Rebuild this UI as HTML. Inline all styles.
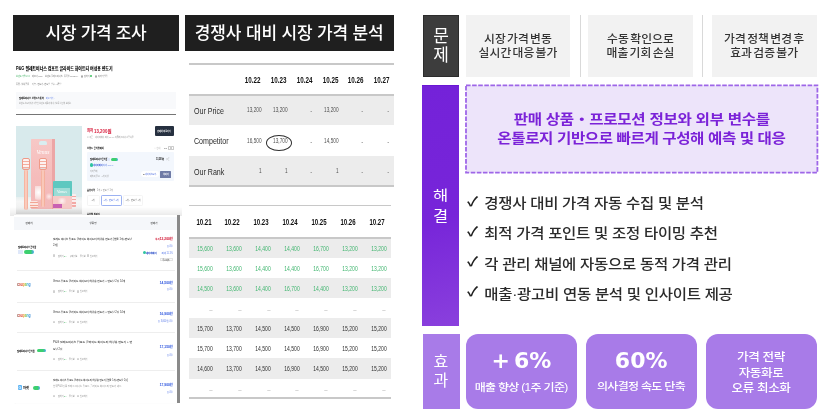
<!DOCTYPE html>
<html lang="ko"><head><meta charset="utf-8">
<style>
*{margin:0;padding:0;box-sizing:border-box}
html,body{width:827px;height:419px;overflow:hidden;background:#fff}
body{position:relative;font-family:"Liberation Sans","Noto Sans CJK KR",sans-serif}
.a{position:absolute;white-space:nowrap}
</style></head>
<body>
<div class="a" style="left:0;top:0;width:827px;height:419px;will-change:transform">
<div class="a" style="left:13px;top:15px;width:166.00px;height:35.50px;background:#1f1f1f;"></div>
<div class="a" style="top:21.91px;font-size:17.000px;line-height:23.800px;color:#fff;font-weight:500;font-family:'Liberation Sans','Noto Sans CJK KR',sans-serif;letter-spacing:-0.300px;left:-504.00px;width:1200px;text-align:center;">시장 가격 조사</div>
<div class="a" style="left:185px;top:15px;width:209.00px;height:35.50px;background:#1f1f1f;"></div>
<div class="a" style="top:22.01px;font-size:17.000px;line-height:23.800px;color:#fff;font-weight:500;font-family:'Liberation Sans','Noto Sans CJK KR',sans-serif;letter-spacing:-0.150px;left:-310.80px;width:1200px;text-align:center;">경쟁사 대비 시장 가격 분석</div>
<div class="a" style="left:423px;top:15px;width:36.40px;height:61.60px;background:#3d3d3d;border:0.8px solid #2c2c2c"></div>
<div class="a" style="top:24.81px;font-size:17.000px;line-height:23.800px;color:#fff;font-weight:400;font-family:'Liberation Sans','Noto Sans CJK KR',sans-serif;left:-159.00px;width:1200px;text-align:center;">문</div>
<div class="a" style="top:44.41px;font-size:17.000px;line-height:23.800px;color:#fff;font-weight:400;font-family:'Liberation Sans','Noto Sans CJK KR',sans-serif;left:-159.00px;width:1200px;text-align:center;">제</div>
<div class="a" style="left:466px;top:15px;width:104.00px;height:61.60px;background:#f2f2f2;"></div>
<div class="a" style="top:30.61px;font-size:11.800px;line-height:16.520px;color:#333;font-weight:500;font-family:'Liberation Sans','Noto Sans CJK KR',sans-serif;letter-spacing:0.100px;word-spacing:-2.200px;left:-82.00px;width:1200px;text-align:center;transform:scale(1.0000,0.9500);transform-origin:center center;">시장 가격 변동</div>
<div class="a" style="top:45.41px;font-size:11.800px;line-height:16.520px;color:#333;font-weight:500;font-family:'Liberation Sans','Noto Sans CJK KR',sans-serif;letter-spacing:0.100px;word-spacing:-2.200px;left:-82.00px;width:1200px;text-align:center;transform:scale(1.0000,0.9500);transform-origin:center center;">실시간 대응 불가</div>
<div class="a" style="left:588.3px;top:15px;width:104.50px;height:61.60px;background:#f2f2f2;"></div>
<div class="a" style="top:30.61px;font-size:11.800px;line-height:16.520px;color:#333;font-weight:500;font-family:'Liberation Sans','Noto Sans CJK KR',sans-serif;letter-spacing:0.100px;word-spacing:-2.200px;left:40.55px;width:1200px;text-align:center;transform:scale(1.0000,0.9500);transform-origin:center center;">수동 확인으로</div>
<div class="a" style="top:45.41px;font-size:11.800px;line-height:16.520px;color:#333;font-weight:500;font-family:'Liberation Sans','Noto Sans CJK KR',sans-serif;letter-spacing:0.100px;word-spacing:-2.200px;left:40.55px;width:1200px;text-align:center;transform:scale(1.0000,0.9500);transform-origin:center center;">매출 기회 손실</div>
<div class="a" style="left:711.6px;top:15px;width:105.20px;height:61.60px;background:#f2f2f2;"></div>
<div class="a" style="top:30.61px;font-size:11.800px;line-height:16.520px;color:#333;font-weight:500;font-family:'Liberation Sans','Noto Sans CJK KR',sans-serif;letter-spacing:0.100px;word-spacing:-2.200px;left:164.20px;width:1200px;text-align:center;transform:scale(1.0000,0.9500);transform-origin:center center;">가격 정책 변경 후</div>
<div class="a" style="top:45.41px;font-size:11.800px;line-height:16.520px;color:#333;font-weight:500;font-family:'Liberation Sans','Noto Sans CJK KR',sans-serif;letter-spacing:0.100px;word-spacing:-2.200px;left:164.20px;width:1200px;text-align:center;transform:scale(1.0000,0.9500);transform-origin:center center;">효과 검증 불가</div>
<div class="a" style="left:580px;top:15px;width:1.00px;height:62.00px;background:#d9d9d9;"></div>
<div class="a" style="left:702.2px;top:15px;width:1.00px;height:62.00px;background:#d9d9d9;"></div>
<div class="a" style="left:422.4px;top:85px;width:36.80px;height:241.00px;background:linear-gradient(165deg,#7422d9 0%,#7725d9 55%,#8a40dd 100%);border-top:1px solid #6a16d4"></div>
<div class="a" style="top:184.39px;font-size:16.500px;line-height:23.100px;color:#fff;font-weight:400;font-family:'Liberation Sans','Noto Sans CJK KR',sans-serif;left:-159.50px;width:1200px;text-align:center;transform:scale(1.0000,0.8600);transform-origin:center center;">해</div>
<div class="a" style="top:205.09px;font-size:16.500px;line-height:23.100px;color:#fff;font-weight:400;font-family:'Liberation Sans','Noto Sans CJK KR',sans-serif;left:-159.50px;width:1200px;text-align:center;transform:scale(1.0000,0.8600);transform-origin:center center;">결</div>
<svg class="a" style="left:0;top:0" width="827" height="419"><rect x="466.0" y="85.4" width="351.4" height="87.3" fill="#ede4fa" stroke="#9e66e8" stroke-width="1.8" stroke-dasharray="4.6 1.5"/></svg>
<div class="a" style="top:109.01px;font-size:15.600px;line-height:21.840px;color:#7b22d8;font-weight:700;font-family:'Liberation Sans','Noto Sans CJK KR',sans-serif;letter-spacing:-0.300px;left:41.80px;width:1200px;text-align:center;transform:scale(1.0000,0.8800);transform-origin:center center;">판매 상품・프로모션 정보와 외부 변수를</div>
<div class="a" style="top:128.31px;font-size:15.600px;line-height:21.840px;color:#7b22d8;font-weight:700;font-family:'Liberation Sans','Noto Sans CJK KR',sans-serif;letter-spacing:-0.420px;left:41.40px;width:1200px;text-align:center;transform:scale(1.0000,0.8800);transform-origin:center center;">온톨로지 기반으로 빠르게 구성해 예측 및 대응</div>
<div class="a" style="top:193.18px;font-size:15.500px;line-height:21.700px;color:#2b2b2b;font-weight:500;font-family:'Liberation Sans','Noto Sans CJK KR',sans-serif;letter-spacing:-0.300px;left:484.30px;transform:scale(1.0000,0.9000);transform-origin:left center;">경쟁사 대비 가격 자동 수집 및 분석</div>
<div class="a" style="top:191.36px;font-size:15.500px;line-height:21.700px;color:#222;font-weight:700;font-family:'Liberation Sans','Noto Sans CJK KR',sans-serif;left:467.00px;transform:scale(1.0000,0.8400);transform-origin:left center;">✓</div>
<div class="a" style="top:223.38px;font-size:15.500px;line-height:21.700px;color:#2b2b2b;font-weight:500;font-family:'Liberation Sans','Noto Sans CJK KR',sans-serif;letter-spacing:-0.300px;left:484.30px;transform:scale(1.0000,0.9000);transform-origin:left center;">최적 가격 포인트 및 조정 타이밍 추천</div>
<div class="a" style="top:221.36px;font-size:15.500px;line-height:21.700px;color:#222;font-weight:700;font-family:'Liberation Sans','Noto Sans CJK KR',sans-serif;left:467.00px;transform:scale(1.0000,0.8400);transform-origin:left center;">✓</div>
<div class="a" style="top:253.58px;font-size:15.500px;line-height:21.700px;color:#2b2b2b;font-weight:500;font-family:'Liberation Sans','Noto Sans CJK KR',sans-serif;letter-spacing:-0.300px;left:484.30px;transform:scale(1.0000,0.9000);transform-origin:left center;">각 관리 채널에 자동으로 동적 가격 관리</div>
<div class="a" style="top:251.36px;font-size:15.500px;line-height:21.700px;color:#222;font-weight:700;font-family:'Liberation Sans','Noto Sans CJK KR',sans-serif;left:467.00px;transform:scale(1.0000,0.8400);transform-origin:left center;">✓</div>
<div class="a" style="top:283.78px;font-size:15.500px;line-height:21.700px;color:#2b2b2b;font-weight:500;font-family:'Liberation Sans','Noto Sans CJK KR',sans-serif;letter-spacing:-0.300px;left:484.30px;transform:scale(1.0000,0.9000);transform-origin:left center;">매출·광고비 연동 분석 및 인사이트 제공</div>
<div class="a" style="top:281.36px;font-size:15.500px;line-height:21.700px;color:#222;font-weight:700;font-family:'Liberation Sans','Noto Sans CJK KR',sans-serif;left:467.00px;transform:scale(1.0000,0.8400);transform-origin:left center;">✓</div>
<div class="a" style="left:422.5px;top:333.6px;width:37.40px;height:75.80px;background:#a87be8;"></div>
<div class="a" style="top:351.38px;font-size:16.000px;line-height:22.400px;color:#fff;font-weight:400;font-family:'Liberation Sans','Noto Sans CJK KR',sans-serif;left:-159.20px;width:1200px;text-align:center;">효</div>
<div class="a" style="top:369.68px;font-size:16.000px;line-height:22.400px;color:#fff;font-weight:400;font-family:'Liberation Sans','Noto Sans CJK KR',sans-serif;left:-159.20px;width:1200px;text-align:center;">과</div>
<div class="a" style="left:466.1px;top:333.6px;width:111.1px;height:75.9px;background:#a87be8;border-radius:12px"></div>
<div class="a" style="left:586.2px;top:333.6px;width:111.0px;height:75.9px;background:#a87be8;border-radius:12px"></div>
<div class="a" style="left:706.1px;top:333.6px;width:111.4px;height:75.9px;background:#a87be8;border-radius:12px"></div>
<div class="a" style="top:345.80px;font-size:22.000px;line-height:30.800px;color:#fff;font-weight:700;font-family:'Liberation Sans','Noto Sans CJK KR',sans-serif;word-spacing:-3.500px;left:-78.60px;width:1200px;text-align:center;font-family:'DejaVu Sans',sans-serif;">+ 6%</div>
<div class="a" style="top:380.05px;font-size:12.000px;line-height:16.800px;color:#fff;font-weight:500;font-family:'Liberation Sans','Noto Sans CJK KR',sans-serif;letter-spacing:-0.700px;left:-78.90px;width:1200px;text-align:center;transform:scale(1.0000,0.8600);transform-origin:center center;">매출 향상 (1주 기준)</div>
<div class="a" style="top:345.80px;font-size:22.000px;line-height:30.800px;color:#fff;font-weight:700;font-family:'Liberation Sans','Noto Sans CJK KR',sans-serif;left:41.20px;width:1200px;text-align:center;font-family:'DejaVu Sans',sans-serif;">60%</div>
<div class="a" style="top:378.65px;font-size:12.000px;line-height:16.800px;color:#fff;font-weight:500;font-family:'Liberation Sans','Noto Sans CJK KR',sans-serif;letter-spacing:-0.700px;left:41.00px;width:1200px;text-align:center;transform:scale(1.0000,0.8600);transform-origin:center center;">의사결정 속도 단축</div>
<div class="a" style="top:348.96px;font-size:12.600px;line-height:17.640px;color:#fff;font-weight:500;font-family:'Liberation Sans','Noto Sans CJK KR',sans-serif;letter-spacing:-0.400px;left:161.00px;width:1200px;text-align:center;transform:scale(1.0000,0.9300);transform-origin:center center;">가격 전략</div>
<div class="a" style="top:365.06px;font-size:12.600px;line-height:17.640px;color:#fff;font-weight:500;font-family:'Liberation Sans','Noto Sans CJK KR',sans-serif;letter-spacing:-0.400px;left:161.00px;width:1200px;text-align:center;transform:scale(1.0000,0.9300);transform-origin:center center;">자동화로</div>
<div class="a" style="top:380.16px;font-size:12.600px;line-height:17.640px;color:#fff;font-weight:500;font-family:'Liberation Sans','Noto Sans CJK KR',sans-serif;letter-spacing:-0.400px;left:161.00px;width:1200px;text-align:center;transform:scale(1.0000,0.9300);transform-origin:center center;">오류 최소화</div>
<div class="a" style="left:189.3px;top:63.3px;width:204.70px;height:1.70px;background:#c8c8c8;"></div>
<div class="a" style="left:189.3px;top:95.5px;width:204.70px;height:29.20px;background:#ececec;"></div>
<div class="a" style="left:189.3px;top:155.5px;width:204.70px;height:29.50px;background:#ececec;"></div>
<div class="a" style="left:189.3px;top:93.8px;width:204.70px;height:1.80px;background:#c8c8c8;"></div>
<div class="a" style="left:189.3px;top:185.0px;width:204.70px;height:1.70px;background:#c8c8c8;"></div>
<div class="a" style="top:73.98px;font-size:8.600px;line-height:12.040px;color:#111;font-weight:700;font-family:'Liberation Sans','Noto Sans CJK KR',sans-serif;right:566.00px;transform:scale(0.7300,1.0000);transform-origin:right center;">10.22</div>
<div class="a" style="top:73.98px;font-size:8.600px;line-height:12.040px;color:#111;font-weight:700;font-family:'Liberation Sans','Noto Sans CJK KR',sans-serif;right:540.20px;transform:scale(0.7300,1.0000);transform-origin:right center;">10.23</div>
<div class="a" style="top:73.98px;font-size:8.600px;line-height:12.040px;color:#111;font-weight:700;font-family:'Liberation Sans','Noto Sans CJK KR',sans-serif;right:514.30px;transform:scale(0.7300,1.0000);transform-origin:right center;">10.24</div>
<div class="a" style="top:73.98px;font-size:8.600px;line-height:12.040px;color:#111;font-weight:700;font-family:'Liberation Sans','Noto Sans CJK KR',sans-serif;right:488.70px;transform:scale(0.7300,1.0000);transform-origin:right center;">10.25</div>
<div class="a" style="top:73.98px;font-size:8.600px;line-height:12.040px;color:#111;font-weight:700;font-family:'Liberation Sans','Noto Sans CJK KR',sans-serif;right:463.00px;transform:scale(0.7300,1.0000);transform-origin:right center;">10.26</div>
<div class="a" style="top:73.98px;font-size:8.600px;line-height:12.040px;color:#111;font-weight:700;font-family:'Liberation Sans','Noto Sans CJK KR',sans-serif;right:437.20px;transform:scale(0.7300,1.0000);transform-origin:right center;">10.27</div>
<div class="a" style="top:103.72px;font-size:9.400px;line-height:13.160px;color:#2a2a2a;font-weight:400;font-family:'Liberation Sans','Noto Sans CJK KR',sans-serif;left:194.40px;transform:scale(0.7550,1.0000);transform-origin:left center;">Our Price</div>
<div class="a" style="top:133.52px;font-size:9.400px;line-height:13.160px;color:#2a2a2a;font-weight:400;font-family:'Liberation Sans','Noto Sans CJK KR',sans-serif;left:194.40px;transform:scale(0.7550,1.0000);transform-origin:left center;">Competitor</div>
<div class="a" style="top:164.72px;font-size:9.400px;line-height:13.160px;color:#2a2a2a;font-weight:400;font-family:'Liberation Sans','Noto Sans CJK KR',sans-serif;left:194.40px;transform:scale(0.7550,1.0000);transform-origin:left center;">Our Rank</div>
<div class="a" style="top:103.10px;font-size:10.000px;line-height:14.000px;color:#505050;font-weight:400;font-family:'Liberation Sans','Noto Sans CJK KR',sans-serif;right:565.50px;transform:scale(0.4736,0.6400);transform-origin:right center;">13,200</div>
<div class="a" style="top:103.10px;font-size:10.000px;line-height:14.000px;color:#505050;font-weight:400;font-family:'Liberation Sans','Noto Sans CJK KR',sans-serif;right:539.70px;transform:scale(0.4736,0.6400);transform-origin:right center;">13,200</div>
<div class="a" style="top:103.80px;font-size:10.000px;line-height:14.000px;color:#666;font-weight:400;font-family:'Liberation Sans','Noto Sans CJK KR',sans-serif;right:514.60px;transform:scale(0.6000,0.6000);transform-origin:right center;">-</div>
<div class="a" style="top:103.10px;font-size:10.000px;line-height:14.000px;color:#505050;font-weight:400;font-family:'Liberation Sans','Noto Sans CJK KR',sans-serif;right:488.20px;transform:scale(0.4736,0.6400);transform-origin:right center;">13,200</div>
<div class="a" style="top:103.80px;font-size:10.000px;line-height:14.000px;color:#666;font-weight:400;font-family:'Liberation Sans','Noto Sans CJK KR',sans-serif;right:463.30px;transform:scale(0.6000,0.6000);transform-origin:right center;">-</div>
<div class="a" style="top:103.80px;font-size:10.000px;line-height:14.000px;color:#666;font-weight:400;font-family:'Liberation Sans','Noto Sans CJK KR',sans-serif;right:437.50px;transform:scale(0.6000,0.6000);transform-origin:right center;">-</div>
<div class="a" style="top:133.80px;font-size:10.000px;line-height:14.000px;color:#505050;font-weight:400;font-family:'Liberation Sans','Noto Sans CJK KR',sans-serif;right:565.50px;transform:scale(0.4736,0.6400);transform-origin:right center;">16,500</div>
<div class="a" style="top:133.80px;font-size:10.000px;line-height:14.000px;color:#505050;font-weight:400;font-family:'Liberation Sans','Noto Sans CJK KR',sans-serif;right:539.70px;transform:scale(0.4736,0.6400);transform-origin:right center;">13,700</div>
<div class="a" style="top:134.50px;font-size:10.000px;line-height:14.000px;color:#666;font-weight:400;font-family:'Liberation Sans','Noto Sans CJK KR',sans-serif;right:514.60px;transform:scale(0.6000,0.6000);transform-origin:right center;">-</div>
<div class="a" style="top:133.80px;font-size:10.000px;line-height:14.000px;color:#505050;font-weight:400;font-family:'Liberation Sans','Noto Sans CJK KR',sans-serif;right:488.20px;transform:scale(0.4736,0.6400);transform-origin:right center;">14,500</div>
<div class="a" style="top:134.50px;font-size:10.000px;line-height:14.000px;color:#666;font-weight:400;font-family:'Liberation Sans','Noto Sans CJK KR',sans-serif;right:463.30px;transform:scale(0.6000,0.6000);transform-origin:right center;">-</div>
<div class="a" style="top:134.50px;font-size:10.000px;line-height:14.000px;color:#666;font-weight:400;font-family:'Liberation Sans','Noto Sans CJK KR',sans-serif;right:437.50px;transform:scale(0.6000,0.6000);transform-origin:right center;">-</div>
<div class="a" style="top:164.10px;font-size:10.000px;line-height:14.000px;color:#505050;font-weight:400;font-family:'Liberation Sans','Noto Sans CJK KR',sans-serif;right:565.50px;transform:scale(0.4736,0.6400);transform-origin:right center;">1</div>
<div class="a" style="top:164.10px;font-size:10.000px;line-height:14.000px;color:#505050;font-weight:400;font-family:'Liberation Sans','Noto Sans CJK KR',sans-serif;right:539.70px;transform:scale(0.4736,0.6400);transform-origin:right center;">1</div>
<div class="a" style="top:164.80px;font-size:10.000px;line-height:14.000px;color:#666;font-weight:400;font-family:'Liberation Sans','Noto Sans CJK KR',sans-serif;right:514.60px;transform:scale(0.6000,0.6000);transform-origin:right center;">-</div>
<div class="a" style="top:164.10px;font-size:10.000px;line-height:14.000px;color:#505050;font-weight:400;font-family:'Liberation Sans','Noto Sans CJK KR',sans-serif;right:488.20px;transform:scale(0.4736,0.6400);transform-origin:right center;">1</div>
<div class="a" style="top:164.80px;font-size:10.000px;line-height:14.000px;color:#666;font-weight:400;font-family:'Liberation Sans','Noto Sans CJK KR',sans-serif;right:463.30px;transform:scale(0.6000,0.6000);transform-origin:right center;">-</div>
<div class="a" style="top:164.80px;font-size:10.000px;line-height:14.000px;color:#666;font-weight:400;font-family:'Liberation Sans','Noto Sans CJK KR',sans-serif;right:437.50px;transform:scale(0.6000,0.6000);transform-origin:right center;">-</div>
<div class="a" style="left:266.2px;top:135.4px;width:26px;height:15.9px;border:1.4px solid #2d2d2d;border-radius:50%"></div>
<div class="a" style="left:189.3px;top:204.6px;width:201.70px;height:1.60px;background:#c8c8c8;"></div>
<div class="a" style="left:189.3px;top:237.0px;width:201.70px;height:2.20px;background:#c8c8c8;"></div>
<div class="a" style="left:189.3px;top:239.2px;width:201.70px;height:18.80px;background:#ececec;"></div>
<div class="a" style="left:189.3px;top:278.1px;width:201.70px;height:19.60px;background:#ececec;"></div>
<div class="a" style="left:189.3px;top:318.1px;width:201.70px;height:20.10px;background:#ececec;"></div>
<div class="a" style="left:189.3px;top:358.1px;width:201.70px;height:20.60px;background:#ececec;"></div>
<div class="a" style="left:189.3px;top:397.2px;width:201.70px;height:1.50px;background:#c8c8c8;"></div>
<div class="a" style="top:217.09px;font-size:8.300px;line-height:11.620px;color:#111;font-weight:700;font-family:'Liberation Sans','Noto Sans CJK KR',sans-serif;left:-396.50px;width:1200px;text-align:center;transform:scale(0.7300,1.0000);transform-origin:center center;">10.21</div>
<div class="a" style="top:217.09px;font-size:8.300px;line-height:11.620px;color:#111;font-weight:700;font-family:'Liberation Sans','Noto Sans CJK KR',sans-serif;left:-367.80px;width:1200px;text-align:center;transform:scale(0.7300,1.0000);transform-origin:center center;">10.22</div>
<div class="a" style="top:217.09px;font-size:8.300px;line-height:11.620px;color:#111;font-weight:700;font-family:'Liberation Sans','Noto Sans CJK KR',sans-serif;left:-338.70px;width:1200px;text-align:center;transform:scale(0.7300,1.0000);transform-origin:center center;">10.23</div>
<div class="a" style="top:217.09px;font-size:8.300px;line-height:11.620px;color:#111;font-weight:700;font-family:'Liberation Sans','Noto Sans CJK KR',sans-serif;left:-310.10px;width:1200px;text-align:center;transform:scale(0.7300,1.0000);transform-origin:center center;">10.24</div>
<div class="a" style="top:217.09px;font-size:8.300px;line-height:11.620px;color:#111;font-weight:700;font-family:'Liberation Sans','Noto Sans CJK KR',sans-serif;left:-281.00px;width:1200px;text-align:center;transform:scale(0.7300,1.0000);transform-origin:center center;">10.25</div>
<div class="a" style="top:217.09px;font-size:8.300px;line-height:11.620px;color:#111;font-weight:700;font-family:'Liberation Sans','Noto Sans CJK KR',sans-serif;left:-252.20px;width:1200px;text-align:center;transform:scale(0.7300,1.0000);transform-origin:center center;">10.26</div>
<div class="a" style="top:217.09px;font-size:8.300px;line-height:11.620px;color:#111;font-weight:700;font-family:'Liberation Sans','Noto Sans CJK KR',sans-serif;left:-223.20px;width:1200px;text-align:center;transform:scale(0.7300,1.0000);transform-origin:center center;">10.27</div>
<div class="a" style="top:242.40px;font-size:10.000px;line-height:14.000px;color:#3fb56e;font-weight:400;font-family:'Liberation Sans','Noto Sans CJK KR',sans-serif;left:-394.70px;width:1200px;text-align:center;transform:scale(0.5032,0.6800);transform-origin:center center;">15,600</div>
<div class="a" style="top:242.40px;font-size:10.000px;line-height:14.000px;color:#3fb56e;font-weight:400;font-family:'Liberation Sans','Noto Sans CJK KR',sans-serif;left:-366.00px;width:1200px;text-align:center;transform:scale(0.5032,0.6800);transform-origin:center center;">13,600</div>
<div class="a" style="top:242.40px;font-size:10.000px;line-height:14.000px;color:#3fb56e;font-weight:400;font-family:'Liberation Sans','Noto Sans CJK KR',sans-serif;left:-336.90px;width:1200px;text-align:center;transform:scale(0.5032,0.6800);transform-origin:center center;">14,400</div>
<div class="a" style="top:242.40px;font-size:10.000px;line-height:14.000px;color:#3fb56e;font-weight:400;font-family:'Liberation Sans','Noto Sans CJK KR',sans-serif;left:-308.30px;width:1200px;text-align:center;transform:scale(0.5032,0.6800);transform-origin:center center;">14,400</div>
<div class="a" style="top:242.40px;font-size:10.000px;line-height:14.000px;color:#3fb56e;font-weight:400;font-family:'Liberation Sans','Noto Sans CJK KR',sans-serif;left:-279.20px;width:1200px;text-align:center;transform:scale(0.5032,0.6800);transform-origin:center center;">16,700</div>
<div class="a" style="top:242.40px;font-size:10.000px;line-height:14.000px;color:#3fb56e;font-weight:400;font-family:'Liberation Sans','Noto Sans CJK KR',sans-serif;left:-250.40px;width:1200px;text-align:center;transform:scale(0.5032,0.6800);transform-origin:center center;">13,200</div>
<div class="a" style="top:242.40px;font-size:10.000px;line-height:14.000px;color:#3fb56e;font-weight:400;font-family:'Liberation Sans','Noto Sans CJK KR',sans-serif;left:-221.40px;width:1200px;text-align:center;transform:scale(0.5032,0.6800);transform-origin:center center;">13,200</div>
<div class="a" style="top:261.85px;font-size:10.000px;line-height:14.000px;color:#3fb56e;font-weight:400;font-family:'Liberation Sans','Noto Sans CJK KR',sans-serif;left:-394.70px;width:1200px;text-align:center;transform:scale(0.5032,0.6800);transform-origin:center center;">15,600</div>
<div class="a" style="top:261.85px;font-size:10.000px;line-height:14.000px;color:#3fb56e;font-weight:400;font-family:'Liberation Sans','Noto Sans CJK KR',sans-serif;left:-366.00px;width:1200px;text-align:center;transform:scale(0.5032,0.6800);transform-origin:center center;">13,600</div>
<div class="a" style="top:261.85px;font-size:10.000px;line-height:14.000px;color:#3fb56e;font-weight:400;font-family:'Liberation Sans','Noto Sans CJK KR',sans-serif;left:-336.90px;width:1200px;text-align:center;transform:scale(0.5032,0.6800);transform-origin:center center;">14,400</div>
<div class="a" style="top:261.85px;font-size:10.000px;line-height:14.000px;color:#3fb56e;font-weight:400;font-family:'Liberation Sans','Noto Sans CJK KR',sans-serif;left:-308.30px;width:1200px;text-align:center;transform:scale(0.5032,0.6800);transform-origin:center center;">14,400</div>
<div class="a" style="top:261.85px;font-size:10.000px;line-height:14.000px;color:#3fb56e;font-weight:400;font-family:'Liberation Sans','Noto Sans CJK KR',sans-serif;left:-279.20px;width:1200px;text-align:center;transform:scale(0.5032,0.6800);transform-origin:center center;">16,700</div>
<div class="a" style="top:261.85px;font-size:10.000px;line-height:14.000px;color:#3fb56e;font-weight:400;font-family:'Liberation Sans','Noto Sans CJK KR',sans-serif;left:-250.40px;width:1200px;text-align:center;transform:scale(0.5032,0.6800);transform-origin:center center;">13,200</div>
<div class="a" style="top:261.85px;font-size:10.000px;line-height:14.000px;color:#3fb56e;font-weight:400;font-family:'Liberation Sans','Noto Sans CJK KR',sans-serif;left:-221.40px;width:1200px;text-align:center;transform:scale(0.5032,0.6800);transform-origin:center center;">13,200</div>
<div class="a" style="top:281.70px;font-size:10.000px;line-height:14.000px;color:#3fb56e;font-weight:400;font-family:'Liberation Sans','Noto Sans CJK KR',sans-serif;left:-394.70px;width:1200px;text-align:center;transform:scale(0.5032,0.6800);transform-origin:center center;">14,500</div>
<div class="a" style="top:281.70px;font-size:10.000px;line-height:14.000px;color:#3fb56e;font-weight:400;font-family:'Liberation Sans','Noto Sans CJK KR',sans-serif;left:-366.00px;width:1200px;text-align:center;transform:scale(0.5032,0.6800);transform-origin:center center;">13,600</div>
<div class="a" style="top:281.70px;font-size:10.000px;line-height:14.000px;color:#3fb56e;font-weight:400;font-family:'Liberation Sans','Noto Sans CJK KR',sans-serif;left:-336.90px;width:1200px;text-align:center;transform:scale(0.5032,0.6800);transform-origin:center center;">14,400</div>
<div class="a" style="top:281.70px;font-size:10.000px;line-height:14.000px;color:#3fb56e;font-weight:400;font-family:'Liberation Sans','Noto Sans CJK KR',sans-serif;left:-308.30px;width:1200px;text-align:center;transform:scale(0.5032,0.6800);transform-origin:center center;">16,700</div>
<div class="a" style="top:281.70px;font-size:10.000px;line-height:14.000px;color:#3fb56e;font-weight:400;font-family:'Liberation Sans','Noto Sans CJK KR',sans-serif;left:-279.20px;width:1200px;text-align:center;transform:scale(0.5032,0.6800);transform-origin:center center;">14,400</div>
<div class="a" style="top:281.70px;font-size:10.000px;line-height:14.000px;color:#3fb56e;font-weight:400;font-family:'Liberation Sans','Noto Sans CJK KR',sans-serif;left:-250.40px;width:1200px;text-align:center;transform:scale(0.5032,0.6800);transform-origin:center center;">13,200</div>
<div class="a" style="top:281.70px;font-size:10.000px;line-height:14.000px;color:#3fb56e;font-weight:400;font-family:'Liberation Sans','Noto Sans CJK KR',sans-serif;left:-221.40px;width:1200px;text-align:center;transform:scale(0.5032,0.6800);transform-origin:center center;">13,200</div>
<div class="a" style="top:303.30px;font-size:10.000px;line-height:14.000px;color:#999;font-weight:400;font-family:'Liberation Sans','Noto Sans CJK KR',sans-serif;left:-389.20px;width:1200px;text-align:center;transform:scale(0.6000,0.6000);transform-origin:center center;">–</div>
<div class="a" style="top:303.30px;font-size:10.000px;line-height:14.000px;color:#999;font-weight:400;font-family:'Liberation Sans','Noto Sans CJK KR',sans-serif;left:-360.50px;width:1200px;text-align:center;transform:scale(0.6000,0.6000);transform-origin:center center;">–</div>
<div class="a" style="top:303.30px;font-size:10.000px;line-height:14.000px;color:#999;font-weight:400;font-family:'Liberation Sans','Noto Sans CJK KR',sans-serif;left:-331.40px;width:1200px;text-align:center;transform:scale(0.6000,0.6000);transform-origin:center center;">–</div>
<div class="a" style="top:303.30px;font-size:10.000px;line-height:14.000px;color:#999;font-weight:400;font-family:'Liberation Sans','Noto Sans CJK KR',sans-serif;left:-302.80px;width:1200px;text-align:center;transform:scale(0.6000,0.6000);transform-origin:center center;">–</div>
<div class="a" style="top:303.30px;font-size:10.000px;line-height:14.000px;color:#999;font-weight:400;font-family:'Liberation Sans','Noto Sans CJK KR',sans-serif;left:-273.70px;width:1200px;text-align:center;transform:scale(0.6000,0.6000);transform-origin:center center;">–</div>
<div class="a" style="top:303.30px;font-size:10.000px;line-height:14.000px;color:#999;font-weight:400;font-family:'Liberation Sans','Noto Sans CJK KR',sans-serif;left:-244.90px;width:1200px;text-align:center;transform:scale(0.6000,0.6000);transform-origin:center center;">–</div>
<div class="a" style="top:303.30px;font-size:10.000px;line-height:14.000px;color:#999;font-weight:400;font-family:'Liberation Sans','Noto Sans CJK KR',sans-serif;left:-215.90px;width:1200px;text-align:center;transform:scale(0.6000,0.6000);transform-origin:center center;">–</div>
<div class="a" style="top:321.95px;font-size:10.000px;line-height:14.000px;color:#2e2e2e;font-weight:400;font-family:'Liberation Sans','Noto Sans CJK KR',sans-serif;left:-394.70px;width:1200px;text-align:center;transform:scale(0.5032,0.6800);transform-origin:center center;">15,700</div>
<div class="a" style="top:321.95px;font-size:10.000px;line-height:14.000px;color:#2e2e2e;font-weight:400;font-family:'Liberation Sans','Noto Sans CJK KR',sans-serif;left:-366.00px;width:1200px;text-align:center;transform:scale(0.5032,0.6800);transform-origin:center center;">13,700</div>
<div class="a" style="top:321.95px;font-size:10.000px;line-height:14.000px;color:#2e2e2e;font-weight:400;font-family:'Liberation Sans','Noto Sans CJK KR',sans-serif;left:-336.90px;width:1200px;text-align:center;transform:scale(0.5032,0.6800);transform-origin:center center;">14,500</div>
<div class="a" style="top:321.95px;font-size:10.000px;line-height:14.000px;color:#2e2e2e;font-weight:400;font-family:'Liberation Sans','Noto Sans CJK KR',sans-serif;left:-308.30px;width:1200px;text-align:center;transform:scale(0.5032,0.6800);transform-origin:center center;">14,500</div>
<div class="a" style="top:321.95px;font-size:10.000px;line-height:14.000px;color:#2e2e2e;font-weight:400;font-family:'Liberation Sans','Noto Sans CJK KR',sans-serif;left:-279.20px;width:1200px;text-align:center;transform:scale(0.5032,0.6800);transform-origin:center center;">16,900</div>
<div class="a" style="top:321.95px;font-size:10.000px;line-height:14.000px;color:#2e2e2e;font-weight:400;font-family:'Liberation Sans','Noto Sans CJK KR',sans-serif;left:-250.40px;width:1200px;text-align:center;transform:scale(0.5032,0.6800);transform-origin:center center;">15,200</div>
<div class="a" style="top:321.95px;font-size:10.000px;line-height:14.000px;color:#2e2e2e;font-weight:400;font-family:'Liberation Sans','Noto Sans CJK KR',sans-serif;left:-221.40px;width:1200px;text-align:center;transform:scale(0.5032,0.6800);transform-origin:center center;">15,200</div>
<div class="a" style="top:341.95px;font-size:10.000px;line-height:14.000px;color:#2e2e2e;font-weight:400;font-family:'Liberation Sans','Noto Sans CJK KR',sans-serif;left:-394.70px;width:1200px;text-align:center;transform:scale(0.5032,0.6800);transform-origin:center center;">15,700</div>
<div class="a" style="top:341.95px;font-size:10.000px;line-height:14.000px;color:#2e2e2e;font-weight:400;font-family:'Liberation Sans','Noto Sans CJK KR',sans-serif;left:-366.00px;width:1200px;text-align:center;transform:scale(0.5032,0.6800);transform-origin:center center;">13,700</div>
<div class="a" style="top:341.95px;font-size:10.000px;line-height:14.000px;color:#2e2e2e;font-weight:400;font-family:'Liberation Sans','Noto Sans CJK KR',sans-serif;left:-336.90px;width:1200px;text-align:center;transform:scale(0.5032,0.6800);transform-origin:center center;">14,500</div>
<div class="a" style="top:341.95px;font-size:10.000px;line-height:14.000px;color:#2e2e2e;font-weight:400;font-family:'Liberation Sans','Noto Sans CJK KR',sans-serif;left:-308.30px;width:1200px;text-align:center;transform:scale(0.5032,0.6800);transform-origin:center center;">14,500</div>
<div class="a" style="top:341.95px;font-size:10.000px;line-height:14.000px;color:#2e2e2e;font-weight:400;font-family:'Liberation Sans','Noto Sans CJK KR',sans-serif;left:-279.20px;width:1200px;text-align:center;transform:scale(0.5032,0.6800);transform-origin:center center;">16,900</div>
<div class="a" style="top:341.95px;font-size:10.000px;line-height:14.000px;color:#2e2e2e;font-weight:400;font-family:'Liberation Sans','Noto Sans CJK KR',sans-serif;left:-250.40px;width:1200px;text-align:center;transform:scale(0.5032,0.6800);transform-origin:center center;">15,200</div>
<div class="a" style="top:341.95px;font-size:10.000px;line-height:14.000px;color:#2e2e2e;font-weight:400;font-family:'Liberation Sans','Noto Sans CJK KR',sans-serif;left:-221.40px;width:1200px;text-align:center;transform:scale(0.5032,0.6800);transform-origin:center center;">15,200</div>
<div class="a" style="top:362.20px;font-size:10.000px;line-height:14.000px;color:#2e2e2e;font-weight:400;font-family:'Liberation Sans','Noto Sans CJK KR',sans-serif;left:-394.70px;width:1200px;text-align:center;transform:scale(0.5032,0.6800);transform-origin:center center;">14,600</div>
<div class="a" style="top:362.20px;font-size:10.000px;line-height:14.000px;color:#2e2e2e;font-weight:400;font-family:'Liberation Sans','Noto Sans CJK KR',sans-serif;left:-366.00px;width:1200px;text-align:center;transform:scale(0.5032,0.6800);transform-origin:center center;">13,700</div>
<div class="a" style="top:362.20px;font-size:10.000px;line-height:14.000px;color:#2e2e2e;font-weight:400;font-family:'Liberation Sans','Noto Sans CJK KR',sans-serif;left:-336.90px;width:1200px;text-align:center;transform:scale(0.5032,0.6800);transform-origin:center center;">14,500</div>
<div class="a" style="top:362.20px;font-size:10.000px;line-height:14.000px;color:#2e2e2e;font-weight:400;font-family:'Liberation Sans','Noto Sans CJK KR',sans-serif;left:-308.30px;width:1200px;text-align:center;transform:scale(0.5032,0.6800);transform-origin:center center;">16,900</div>
<div class="a" style="top:362.20px;font-size:10.000px;line-height:14.000px;color:#2e2e2e;font-weight:400;font-family:'Liberation Sans','Noto Sans CJK KR',sans-serif;left:-279.20px;width:1200px;text-align:center;transform:scale(0.5032,0.6800);transform-origin:center center;">14,500</div>
<div class="a" style="top:362.20px;font-size:10.000px;line-height:14.000px;color:#2e2e2e;font-weight:400;font-family:'Liberation Sans','Noto Sans CJK KR',sans-serif;left:-250.40px;width:1200px;text-align:center;transform:scale(0.5032,0.6800);transform-origin:center center;">15,200</div>
<div class="a" style="top:362.20px;font-size:10.000px;line-height:14.000px;color:#2e2e2e;font-weight:400;font-family:'Liberation Sans','Noto Sans CJK KR',sans-serif;left:-221.40px;width:1200px;text-align:center;transform:scale(0.5032,0.6800);transform-origin:center center;">15,200</div>
<div class="a" style="top:383.35px;font-size:10.000px;line-height:14.000px;color:#999;font-weight:400;font-family:'Liberation Sans','Noto Sans CJK KR',sans-serif;left:-389.20px;width:1200px;text-align:center;transform:scale(0.6000,0.6000);transform-origin:center center;">–</div>
<div class="a" style="top:383.35px;font-size:10.000px;line-height:14.000px;color:#999;font-weight:400;font-family:'Liberation Sans','Noto Sans CJK KR',sans-serif;left:-360.50px;width:1200px;text-align:center;transform:scale(0.6000,0.6000);transform-origin:center center;">–</div>
<div class="a" style="top:383.35px;font-size:10.000px;line-height:14.000px;color:#999;font-weight:400;font-family:'Liberation Sans','Noto Sans CJK KR',sans-serif;left:-331.40px;width:1200px;text-align:center;transform:scale(0.6000,0.6000);transform-origin:center center;">–</div>
<div class="a" style="top:383.35px;font-size:10.000px;line-height:14.000px;color:#999;font-weight:400;font-family:'Liberation Sans','Noto Sans CJK KR',sans-serif;left:-302.80px;width:1200px;text-align:center;transform:scale(0.6000,0.6000);transform-origin:center center;">–</div>
<div class="a" style="top:383.35px;font-size:10.000px;line-height:14.000px;color:#999;font-weight:400;font-family:'Liberation Sans','Noto Sans CJK KR',sans-serif;left:-273.70px;width:1200px;text-align:center;transform:scale(0.6000,0.6000);transform-origin:center center;">–</div>
<div class="a" style="top:383.35px;font-size:10.000px;line-height:14.000px;color:#999;font-weight:400;font-family:'Liberation Sans','Noto Sans CJK KR',sans-serif;left:-244.90px;width:1200px;text-align:center;transform:scale(0.6000,0.6000);transform-origin:center center;">–</div>
<div class="a" style="top:383.35px;font-size:10.000px;line-height:14.000px;color:#999;font-weight:400;font-family:'Liberation Sans','Noto Sans CJK KR',sans-serif;left:-215.90px;width:1200px;text-align:center;transform:scale(0.6000,0.6000);transform-origin:center center;">–</div>
<div class="a" style="left:0;top:0;width:827px;height:419px;filter:blur(0.25px)">
<div class="a" style="top:62.11px;font-size:10.000px;line-height:14.000px;color:#000;font-weight:900;font-family:'Liberation Sans','Noto Sans CJK KR',sans-serif;letter-spacing:-0.177px;left:16.00px;transform:scale(0.3950,0.4542);transform-origin:left center;">P&amp;G 질레트비너스 컴포트 글라이드 화이트티 여성용 면도기</div>
<div class="a" style="top:69.46px;font-size:10.000px;line-height:14.000px;color:#49b56a;font-weight:400;font-family:'Liberation Sans','Noto Sans CJK KR',sans-serif;left:16.40px;transform:scale(0.2050,0.2460);transform-origin:left center;">브랜드 카탈로그</div>
<div class="a" style="top:69.46px;font-size:10.000px;line-height:14.000px;color:#777;font-weight:400;font-family:'Liberation Sans','Noto Sans CJK KR',sans-serif;left:32.10px;transform:scale(0.2050,0.2460);transform-origin:left center;">제조사 P&amp;G</div>
<div class="a" style="top:69.46px;font-size:10.000px;line-height:14.000px;color:#777;font-weight:400;font-family:'Liberation Sans','Noto Sans CJK KR',sans-serif;left:45.00px;transform:scale(0.2050,0.2460);transform-origin:left center;">브랜드 질레트비너스</div>
<div class="a" style="top:69.46px;font-size:10.000px;line-height:14.000px;color:#777;font-weight:400;font-family:'Liberation Sans','Noto Sans CJK KR',sans-serif;left:63.70px;transform:scale(0.2050,0.2460);transform-origin:left center;">등록일 2022.06.</div>
<div class="a" style="top:69.46px;font-size:10.000px;line-height:14.000px;color:#777;font-weight:400;font-family:'Liberation Sans','Noto Sans CJK KR',sans-serif;left:83.60px;transform:scale(0.2050,0.2460);transform-origin:left center;">찜하기</div>
<div class="a" style="top:69.46px;font-size:10.000px;line-height:14.000px;color:#777;font-weight:400;font-family:'Liberation Sans','Noto Sans CJK KR',sans-serif;left:97.90px;transform:scale(0.2050,0.2460);transform-origin:left center;">최저가알림</div>
<div class="a" style="left:81.1px;top:75.0px;width:1.6px;height:2.6px;border:0.4px solid #aaa;border-radius:1px"></div>
<div class="a" style="left:94.9px;top:75.0px;width:1.6px;height:2.6px;border:0.4px solid #aaa;border-radius:1px"></div>
<div class="a" style="left:89.8px;top:75.4px;width:2.20px;height:2.00px;background:#3cc060;border-radius:50%"></div>
<div class="a" style="top:76.96px;font-size:10.000px;line-height:14.000px;color:#777;font-weight:400;font-family:'Liberation Sans','Noto Sans CJK KR',sans-serif;left:16.20px;transform:scale(0.2050,0.2460);transform-origin:left center;">종류 : 남녀공용</div>
<div class="a" style="top:76.96px;font-size:10.000px;line-height:14.000px;color:#777;font-weight:400;font-family:'Liberation Sans','Noto Sans CJK KR',sans-serif;left:31.70px;transform:scale(0.2050,0.2460);transform-origin:left center;">기능 : 면도기+면도날</div>
<div class="a" style="top:76.96px;font-size:10.000px;line-height:14.000px;color:#777;font-weight:400;font-family:'Liberation Sans','Noto Sans CJK KR',sans-serif;left:51.20px;transform:scale(0.2050,0.2460);transform-origin:left center;">날수 : 3중날</div>
<div class="a" style="left:15.9px;top:91.6px;width:160.50px;height:17.90px;background:#f8f9fb;"></div>
<div class="a" style="top:90.86px;font-size:10.000px;line-height:14.000px;color:#1a1a1a;font-weight:900;font-family:'Liberation Sans','Noto Sans CJK KR',sans-serif;left:19.30px;transform:scale(0.2200,0.2640);transform-origin:left center;">질레트비너스 브랜드스토어</div>
<div class="a" style="top:90.86px;font-size:10.000px;line-height:14.000px;color:#5b7be8;font-weight:400;font-family:'Liberation Sans','Noto Sans CJK KR',sans-serif;left:45.50px;transform:scale(0.2000,0.2400);transform-origin:left center;">바로가기 ›</div>
<div class="a" style="top:96.35px;font-size:10.000px;line-height:14.000px;color:#9a9a9a;font-weight:400;font-family:'Liberation Sans','Noto Sans CJK KR',sans-serif;left:19.30px;transform:scale(0.1850,0.2220);transform-origin:left center;">브랜드 스토어에서 다양한 브랜드 제품과 혜택 정보를 확인해 보세요.</div>
<div class="a" style="left:15.9px;top:113.9px;width:160.60px;height:1.60px;background:#757575;"></div>
<div class="a" style="left:16.3px;top:126.0px;width:65.50px;height:88.40px;background:#d8eaec;"></div>
<div class="a" style="left:16.3px;top:197px;width:65.5px;height:17.4px;background:linear-gradient(#e6efef,#f5f6f6 25%,#eff0f0 70%,#dedede)"></div>
<div class="a" style="left:31.2px;top:139px;width:23.6px;height:70.2px;background:linear-gradient(#f7c8c6,#f5bcbb 55%,#f3b8b8);border-radius:0.8px"></div>
<div class="a" style="left:52.2px;top:139px;width:2.6px;height:70.2px;background:#eca6a6"></div>
<div class="a" style="left:38.5px;top:141.4px;width:8.8px;height:3.3px;background:#d9eef0;border-radius:2px 2px 1px 1px"></div>
<div class="a" style="left:34.5px;top:186px;width:9px;height:16px;background:radial-gradient(circle at 40% 40%,#ffffff,#f7dada 60%,rgba(247,200,200,0) 75%)"></div>
<div class="a" style="left:46px;top:192px;width:6px;height:9px;background:radial-gradient(circle,#fbeaea,rgba(247,200,200,0) 70%)"></div>
<div class="a" style="top:145.00px;font-size:10.000px;line-height:14.000px;color:#ffffff;font-weight:400;font-family:'Liberation Sans','Noto Sans CJK KR',sans-serif;left:-557.20px;width:1200px;text-align:center;transform:scale(0.5600,0.5600);transform-origin:center center;font-family:'Liberation Serif',serif;font-style:italic;">Venus</div>
<div class="a" style="left:38.5px;top:158.4px;width:8.3px;height:11.6px;background:repeating-linear-gradient(#fdf2f0 0 1.8px,#f4ad9f 1.8px 2.6px,#e2dcdc 2.6px 3.2px);border-radius:2px;border:0.8px solid #ef9a88"></div>
<div class="a" style="left:40.8px;top:170px;width:4.2px;height:37px;background:linear-gradient(90deg,#f3a893,#fbd3c6,#f2a58f);border-radius:1.5px 1.5px 2px 2px"></div>
<div class="a" style="left:22px;top:158.4px;width:7.7px;height:11.6px;background:repeating-linear-gradient(#fdf2f0 0 1.8px,#f4ad9f 1.8px 2.6px,#e2dcdc 2.6px 3.2px);border-radius:2px;border:0.8px solid #ef9a88"></div>
<div class="a" style="left:23.6px;top:170px;width:4.8px;height:39.8px;background:linear-gradient(90deg,#f4aa95,#fcd6c9,#f3a792);border-radius:1.5px 1.5px 2.4px 2.4px"></div>
<div class="a" style="left:30.3px;top:200.6px;width:8px;height:7.5px;background:repeating-linear-gradient(#fbe6e2 0 1.5px,#f2a493 1.5px 2.5px);border-radius:1.5px"></div>
<div class="a" style="left:52.7px;top:180.6px;width:18.9px;height:28.6px;background:#f6cac7;border-radius:0.8px"></div>
<div class="a" style="left:52.7px;top:180.6px;width:18.9px;height:15.6px;background:#5ec8c0;border-radius:0.8px 0.8px 0 0"></div>
<div class="a" style="left:54.2px;top:188.4px;width:15.9px;height:7.4px;background:#9edcd6"></div>
<div class="a" style="top:185.00px;font-size:10.000px;line-height:14.000px;color:#ffffff;font-weight:400;font-family:'Liberation Sans','Noto Sans CJK KR',sans-serif;left:-537.90px;width:1200px;text-align:center;transform:scale(0.4200,0.4200);transform-origin:center center;font-family:'Liberation Serif',serif;font-style:italic;">Venus</div>
<div class="a" style="left:56px;top:197.5px;width:12px;height:6px;background:radial-gradient(circle,#fff3f3,rgba(246,202,199,0) 70%)"></div>
<div class="a" style="left:52.7px;top:204px;width:9.1px;height:3.5px;background:#c961b2"></div>
<div class="a" style="left:71.6px;top:193.8px;width:4.5px;height:13.2px;background:repeating-linear-gradient(#fbeeee 0 1.6px,#f2a9a5 1.6px 3.2px);border-radius:0.8px"></div>
<div class="a" style="top:124.00px;font-size:10.000px;line-height:14.000px;color:#d8203f;font-weight:900;font-family:'Liberation Sans','Noto Sans CJK KR',sans-serif;left:86.80px;transform:scale(0.3300,0.4125);transform-origin:left center;">최저</div>
<div class="a" style="top:123.97px;font-size:10.000px;line-height:14.000px;color:#d8203f;font-weight:900;font-family:'Liberation Sans','Noto Sans CJK KR',sans-serif;letter-spacing:0.100px;left:94.30px;transform:scale(0.4300,0.5000);transform-origin:left center;">13,200원</div>
<div class="a" style="top:130.36px;font-size:10.000px;line-height:14.000px;color:#999;font-weight:400;font-family:'Liberation Sans','Noto Sans CJK KR',sans-serif;left:86.70px;transform:scale(0.2000,0.2400);transform-origin:left center;">⎙ 쿠폰</div>
<div class="a" style="top:130.36px;font-size:10.000px;line-height:14.000px;color:#999;font-weight:400;font-family:'Liberation Sans','Noto Sans CJK KR',sans-serif;left:95.10px;transform:scale(0.2000,0.2400);transform-origin:left center;">네이버페이 최대 11.1% 적립</div>
<div class="a" style="top:130.36px;font-size:10.000px;line-height:14.000px;color:#999;font-weight:400;font-family:'Liberation Sans','Noto Sans CJK KR',sans-serif;left:117.10px;transform:scale(0.2000,0.2400);transform-origin:left center;">질레트비너스공식몰</div>
<div class="a" style="left:154.6px;top:126.0px;width:19.50px;height:9.50px;background:#263040;border-radius:1px"></div>
<div class="a" style="top:123.86px;font-size:10.000px;line-height:14.000px;color:#fff;font-weight:700;font-family:'Liberation Sans','Noto Sans CJK KR',sans-serif;left:-435.70px;width:1200px;text-align:center;transform:scale(0.2000,0.2400);transform-origin:center center;">판매처 바로가기</div>
<div class="a" style="top:140.86px;font-size:10.000px;line-height:14.000px;color:#1a1a1a;font-weight:900;font-family:'Liberation Sans','Noto Sans CJK KR',sans-serif;left:86.90px;transform:scale(0.2200,0.2640);transform-origin:left center;">브랜드 공식판매처</div>
<div class="a" style="top:140.96px;font-size:10.000px;line-height:14.000px;color:#aaa;font-weight:400;font-family:'Liberation Sans','Noto Sans CJK KR',sans-serif;left:154.20px;transform:scale(0.2000,0.2400);transform-origin:left center;">ⓘ 안내</div>
<div class="a" style="top:140.90px;font-size:10.000px;line-height:14.000px;color:#666;font-weight:700;font-family:'Liberation Sans','Noto Sans CJK KR',sans-serif;left:163.80px;transform:scale(0.2000,0.2000);transform-origin:left center;">1/1</div>
<div class="a" style="left:168.3px;top:146.0px;width:2.9px;height:3.8px;border:0.4px solid #ccc;border-radius:0.6px"></div>
<div class="a" style="left:171.2px;top:146.0px;width:2.9px;height:3.8px;border:0.4px solid #ccc;border-radius:0.6px"></div>
<div class="a" style="left:87.0px;top:152.4px;width:86.90px;height:28.80px;background:#f3f7fd;border-radius:1px"></div>
<div class="a" style="top:152.16px;font-size:10.000px;line-height:14.000px;color:#1a1a1a;font-weight:900;font-family:'Liberation Sans','Noto Sans CJK KR',sans-serif;left:89.90px;transform:scale(0.2150,0.2580);transform-origin:left center;">질레트비너스공식몰</div>
<div class="a" style="left:106.7px;top:157.7px;width:3.30px;height:3.00px;background:#dfe8fa;"></div>
<div class="a" style="left:110.8px;top:157.7px;width:7.7px;height:3.0px;background:linear-gradient(90deg,#3ccf6f,#3ccf6f 70%,#4aa8f0);border-radius:2px"></div>
<div class="a" style="top:151.96px;font-size:10.000px;line-height:14.000px;color:#111;font-weight:900;font-family:'Liberation Sans','Noto Sans CJK KR',sans-serif;left:155.70px;transform:scale(0.2080,0.2600);transform-origin:left center;">13,200원</div>
<div class="a" style="top:151.96px;font-size:10.000px;line-height:14.000px;color:#aaa;font-weight:400;font-family:'Liberation Sans','Noto Sans CJK KR',sans-serif;left:166.20px;transform:scale(0.2000,0.2400);transform-origin:left center;">쿠폰</div>
<div class="a" style="left:90.0px;top:163.4px;width:3.2px;height:3.2px;background:#2fc4a0;border-radius:50%"></div>
<div class="a" style="top:158.06px;font-size:10.000px;line-height:14.000px;color:#3558d8;font-weight:700;font-family:'Liberation Sans','Noto Sans CJK KR',sans-serif;left:93.40px;transform:scale(0.2100,0.2520);transform-origin:left center;">네이버페이</div>
<div class="a" style="top:158.06px;font-size:10.000px;line-height:14.000px;color:#5f80e6;font-weight:400;font-family:'Liberation Sans','Noto Sans CJK KR',sans-serif;left:102.60px;transform:scale(0.2100,0.2520);transform-origin:left center;">최대 11.1%</div>
<div class="a" style="top:163.76px;font-size:10.000px;line-height:14.000px;color:#999;font-weight:400;font-family:'Liberation Sans','Noto Sans CJK KR',sans-serif;left:90.00px;transform:scale(0.2000,0.2400);transform-origin:left center;">기타결제</div>
<div class="a" style="top:169.06px;font-size:10.000px;line-height:14.000px;color:#999;font-weight:400;font-family:'Liberation Sans','Noto Sans CJK KR',sans-serif;left:90.00px;transform:scale(0.2000,0.2400);transform-origin:left center;">배송비 무료 · 1개 이상</div>
<div class="a" style="left:141.0px;top:171.2px;width:17.50px;height:6.20px;background:#ffffff;border-radius:3px"></div>
<div class="a" style="top:167.26px;font-size:10.000px;line-height:14.000px;color:#4a6ae0;font-weight:400;font-family:'Liberation Sans','Noto Sans CJK KR',sans-serif;left:143.10px;transform:scale(0.2000,0.2400);transform-origin:left center;"><b style="color:#222">N</b> 네이버스토어 ›</div>
<div class="a" style="left:160.3px;top:171.2px;width:10.90px;height:6.40px;background:#6f7ba6;border-radius:0.5px"></div>
<div class="a" style="top:167.46px;font-size:10.000px;line-height:14.000px;color:#fff;font-weight:700;font-family:'Liberation Sans','Noto Sans CJK KR',sans-serif;left:-434.25px;width:1200px;text-align:center;transform:scale(0.2000,0.2400);transform-origin:center center;">최저가</div>
<div class="a" style="top:183.16px;font-size:10.000px;line-height:14.000px;color:#1a1a1a;font-weight:900;font-family:'Liberation Sans','Noto Sans CJK KR',sans-serif;left:87.10px;transform:scale(0.2200,0.2640);transform-origin:left center;">옵션가격</div>
<div class="a" style="top:183.16px;font-size:10.000px;line-height:14.000px;color:#888;font-weight:400;font-family:'Liberation Sans','Noto Sans CJK KR',sans-serif;left:97.00px;transform:scale(0.2200,0.2640);transform-origin:left center;">1개 + 면도날 1개</div>
<div class="a" style="left:87.1px;top:194.5px;width:12.7px;height:11.6px;border:0.6px solid #f4f4f4;background:#fff;border-radius:1.2px"></div>
<div class="a" style="top:193.26px;font-size:10.000px;line-height:14.000px;color:#666;font-weight:400;font-family:'Liberation Sans','Noto Sans CJK KR',sans-serif;left:-506.55px;width:1200px;text-align:center;transform:scale(0.2100,0.2520);transform-origin:center center;">1개</div>
<div class="a" style="left:101.0px;top:194.5px;width:20.7px;height:11.6px;border:0.6px solid #9cb2f2;background:#fff;border-radius:1.2px"></div>
<div class="a" style="top:193.26px;font-size:10.000px;line-height:14.000px;color:#3e64e0;font-weight:400;font-family:'Liberation Sans','Noto Sans CJK KR',sans-serif;left:-488.65px;width:1200px;text-align:center;transform:scale(0.2100,0.2520);transform-origin:center center;">1개 + 면도날 1개</div>
<div class="a" style="left:123.3px;top:194.5px;width:19.5px;height:11.6px;border:0.6px solid #f4f4f4;background:#fff;border-radius:1.2px"></div>
<div class="a" style="top:193.26px;font-size:10.000px;line-height:14.000px;color:#666;font-weight:400;font-family:'Liberation Sans','Noto Sans CJK KR',sans-serif;left:-466.95px;width:1200px;text-align:center;transform:scale(0.2100,0.2520);transform-origin:center center;">1개 + 면도날 4개</div>
<div class="a" style="left:10px;top:206.5px;width:172px;height:9.5px;background:linear-gradient(rgba(0,0,0,0),rgba(0,0,0,0.085))"></div>
<div class="a" style="top:206.96px;font-size:10.000px;line-height:14.000px;color:#1a1a1a;font-weight:900;font-family:'Liberation Sans','Noto Sans CJK KR',sans-serif;left:87.10px;transform:scale(0.2200,0.2640);transform-origin:left center;">옵션별 최저가</div>
<div class="a" style="left:13.6px;top:215.4px;width:164px;height:187.3px;background:#fff;box-shadow:-0.5px 0 1px rgba(0,0,0,0.12)"></div>
<div class="a" style="left:177.3px;top:215.4px;width:2.40px;height:187.20px;background:#8a8a8a;"></div>
<div class="a" style="left:14.1px;top:216.6px;width:163.20px;height:13.30px;background:#f5f7fa;"></div>
<div class="a" style="top:215.77px;font-size:10.000px;line-height:14.000px;color:#444;font-weight:500;font-family:'Liberation Sans','Noto Sans CJK KR',sans-serif;left:-570.60px;width:1200px;text-align:center;transform:scale(0.2500,0.2750);transform-origin:center center;">판매처</div>
<div class="a" style="top:215.77px;font-size:10.000px;line-height:14.000px;color:#444;font-weight:500;font-family:'Liberation Sans','Noto Sans CJK KR',sans-serif;left:-506.90px;width:1200px;text-align:center;transform:scale(0.2500,0.2750);transform-origin:center center;">상품명</div>
<div class="a" style="top:215.77px;font-size:10.000px;line-height:14.000px;color:#444;font-weight:500;font-family:'Liberation Sans','Noto Sans CJK KR',sans-serif;left:-446.00px;width:1200px;text-align:center;transform:scale(0.2500,0.2750);transform-origin:center center;">판매가</div>
<div class="a" style="left:17px;top:269.8px;width:158.20px;height:0.60px;background:#eeeeee;"></div>
<div class="a" style="left:17px;top:301.5px;width:158.20px;height:0.60px;background:#eeeeee;"></div>
<div class="a" style="left:17px;top:332.4px;width:158.20px;height:0.60px;background:#eeeeee;"></div>
<div class="a" style="left:17px;top:369.6px;width:158.20px;height:0.60px;background:#eeeeee;"></div>
<div class="a" style="top:239.77px;font-size:10.000px;line-height:14.000px;color:#111;font-weight:900;font-family:'Liberation Sans','Noto Sans CJK KR',sans-serif;left:17.70px;transform:scale(0.2200,0.2750);transform-origin:left center;">질레트비너스공식몰</div>
<div class="a" style="left:18.0px;top:250.0px;width:5.20px;height:4.30px;background:#dfe8fa;"></div>
<div class="a" style="left:24.0px;top:250.4px;width:10px;height:3.7px;background:linear-gradient(90deg,#3ccf6f,#3ccf6f 65%,#4aa8f0);border-radius:2px"></div>
<div class="a" style="top:232.37px;font-size:10.000px;line-height:14.000px;color:#333;font-weight:500;font-family:'Liberation Sans','Noto Sans CJK KR',sans-serif;left:53.40px;transform:scale(0.2600,0.2730);transform-origin:left center;">질레트 비너스 컴포트 글라이드 화이트티 여성용 면도기 (핸들 1개+면도날</div>
<div class="a" style="top:238.37px;font-size:10.000px;line-height:14.000px;color:#333;font-weight:500;font-family:'Liberation Sans','Noto Sans CJK KR',sans-serif;left:53.40px;transform:scale(0.2600,0.2730);transform-origin:left center;">2개)</div>
<div class="a" style="left:53.4px;top:254.10px;width:1.6px;height:2.6px;border:0.5px solid #d0d0d0;border-radius:1px 1px 0.4px 0.4px"></div>
<div class="a" style="top:248.56px;font-size:10.000px;line-height:14.000px;color:#888;font-weight:400;font-family:'Liberation Sans','Noto Sans CJK KR',sans-serif;left:57.50px;transform:scale(0.2000,0.2400);transform-origin:left center;">찜하기 <span style="color:#3cb15a">24</span></div>
<div class="a" style="top:248.56px;font-size:10.000px;line-height:14.000px;color:#888;font-weight:400;font-family:'Liberation Sans','Noto Sans CJK KR',sans-serif;left:70.00px;transform:scale(0.2000,0.2400);transform-origin:left center;">구매정보</div>
<div class="a" style="top:248.56px;font-size:10.000px;line-height:14.000px;color:#888;font-weight:400;font-family:'Liberation Sans','Noto Sans CJK KR',sans-serif;left:79.60px;transform:scale(0.2000,0.2400);transform-origin:left center;">몰정보</div>
<div class="a" style="left:87.4px;top:254.10px;width:1.6px;height:2.6px;border:0.5px solid #d0d0d0;border-radius:1px 1px 0.4px 0.4px"></div>
<div class="a" style="top:248.56px;font-size:10.000px;line-height:14.000px;color:#888;font-weight:400;font-family:'Liberation Sans','Noto Sans CJK KR',sans-serif;left:90.00px;transform:scale(0.2000,0.2400);transform-origin:left center;">신고하기</div>
<div class="a" style="top:232.07px;font-size:10.000px;line-height:14.000px;color:#d4213d;font-weight:700;font-family:'Liberation Sans','Noto Sans CJK KR',sans-serif;right:668.10px;transform:scale(0.2200,0.2750);transform-origin:right center;">최저</div>
<div class="a" style="top:232.00px;font-size:10.000px;line-height:14.000px;color:#d4213d;font-weight:700;font-family:'Liberation Sans','Noto Sans CJK KR',sans-serif;right:653.80px;transform:scale(0.3276,0.3600);transform-origin:right center;-webkit-text-stroke:0.15px #d4213d;">13,200원</div>
<div class="a" style="top:239.27px;font-size:10.000px;line-height:14.000px;color:#5b7be8;font-weight:400;font-family:'Liberation Sans','Noto Sans CJK KR',sans-serif;right:654.20px;transform:scale(0.2300,0.2760);transform-origin:right center;">⎙ 4월</div>
<div class="a" style="left:142.5px;top:251.1px;width:3.0px;height:3.0px;background:#2fc4a0;border-radius:50%"></div>
<div class="a" style="top:245.67px;font-size:10.000px;line-height:14.000px;color:#2c4fc8;font-weight:900;font-family:'Liberation Sans','Noto Sans CJK KR',sans-serif;left:145.60px;transform:scale(0.2300,0.2760);transform-origin:left center;">네이버페이</div>
<div class="a" style="top:245.67px;font-size:10.000px;line-height:14.000px;color:#5b7be8;font-weight:500;font-family:'Liberation Sans','Noto Sans CJK KR',sans-serif;right:654.10px;transform:scale(0.2300,0.2760);transform-origin:right center;">최대 11.1%</div>
<div class="a" style="left:160.1px;top:258.1px;width:12.5px;height:3.4px;border:0.4px solid #e4e4e4;background:#fbfbfb"></div>
<div class="a" style="top:252.85px;font-size:10.000px;line-height:14.000px;color:#555;font-weight:400;font-family:'Liberation Sans','Noto Sans CJK KR',sans-serif;left:-433.65px;width:1200px;text-align:center;transform:scale(0.1900,0.2280);transform-origin:center center;">무료배송</div>
<div class="a" style="top:278.20px;font-size:10.000px;line-height:14.000px;color:#000;font-weight:700;font-family:'Liberation Sans','Noto Sans CJK KR',sans-serif;letter-spacing:-0.306px;left:17.00px;transform:scale(0.3430,0.4900);transform-origin:left center;"><span style="color:#8c3a2b">c</span><span style="color:#d23b2e">o</span><span style="color:#e0563a">u</span><span style="color:#e9a23a">p</span><span style="color:#8cc63f">a</span><span style="color:#3db1d8">n</span><span style="color:#3d8fd9">g</span></div>
<div class="a" style="top:274.47px;font-size:10.000px;line-height:14.000px;color:#333;font-weight:500;font-family:'Liberation Sans','Noto Sans CJK KR',sans-serif;left:53.40px;transform:scale(0.2600,0.2730);transform-origin:left center;">Venus 컴포트 글라이드 화이트티 여성용 면도기 + 면도날 2입 14개</div>
<div class="a" style="left:53.4px;top:290.00px;width:1.6px;height:2.6px;border:0.5px solid #d0d0d0;border-radius:1px 1px 0.4px 0.4px"></div>
<div class="a" style="top:284.46px;font-size:10.000px;line-height:14.000px;color:#888;font-weight:400;font-family:'Liberation Sans','Noto Sans CJK KR',sans-serif;left:57.50px;transform:scale(0.2000,0.2400);transform-origin:left center;">찜하기 <span style="color:#3cb15a">24</span></div>
<div class="a" style="top:284.46px;font-size:10.000px;line-height:14.000px;color:#888;font-weight:400;font-family:'Liberation Sans','Noto Sans CJK KR',sans-serif;left:69.00px;transform:scale(0.2000,0.2400);transform-origin:left center;">몰정보</div>
<div class="a" style="left:77.4px;top:290.00px;width:1.6px;height:2.6px;border:0.5px solid #d0d0d0;border-radius:1px 1px 0.4px 0.4px"></div>
<div class="a" style="top:284.46px;font-size:10.000px;line-height:14.000px;color:#888;font-weight:400;font-family:'Liberation Sans','Noto Sans CJK KR',sans-serif;left:80.00px;transform:scale(0.2000,0.2400);transform-origin:left center;">신고하기</div>
<div class="a" style="top:275.60px;font-size:10.000px;line-height:14.000px;color:#3e63e0;font-weight:700;font-family:'Liberation Sans','Noto Sans CJK KR',sans-serif;right:653.80px;transform:scale(0.3276,0.3600);transform-origin:right center;-webkit-text-stroke:0.15px #3e63e0;">14,500원</div>
<div class="a" style="top:281.97px;font-size:10.000px;line-height:14.000px;color:#5b7be8;font-weight:400;font-family:'Liberation Sans','Noto Sans CJK KR',sans-serif;right:654.20px;transform:scale(0.2300,0.2760);transform-origin:right center;">⎙ 4월</div>
<div class="a" style="top:308.90px;font-size:10.000px;line-height:14.000px;color:#000;font-weight:700;font-family:'Liberation Sans','Noto Sans CJK KR',sans-serif;letter-spacing:-0.306px;left:17.00px;transform:scale(0.3430,0.4900);transform-origin:left center;"><span style="color:#8c3a2b">c</span><span style="color:#d23b2e">o</span><span style="color:#e0563a">u</span><span style="color:#e9a23a">p</span><span style="color:#8cc63f">a</span><span style="color:#3db1d8">n</span><span style="color:#3d8fd9">g</span></div>
<div class="a" style="top:305.27px;font-size:10.000px;line-height:14.000px;color:#333;font-weight:500;font-family:'Liberation Sans','Noto Sans CJK KR',sans-serif;left:53.40px;transform:scale(0.2600,0.2730);transform-origin:left center;">Venus 컴포트 글라이드 화이트티 여성용 면도기 + 면도날 2입 14개</div>
<div class="a" style="left:53.4px;top:320.70px;width:1.6px;height:2.6px;border:0.5px solid #d0d0d0;border-radius:1px 1px 0.4px 0.4px"></div>
<div class="a" style="top:315.16px;font-size:10.000px;line-height:14.000px;color:#888;font-weight:400;font-family:'Liberation Sans','Noto Sans CJK KR',sans-serif;left:57.50px;transform:scale(0.2000,0.2400);transform-origin:left center;">찜하기 <span style="color:#3cb15a">24</span></div>
<div class="a" style="top:315.16px;font-size:10.000px;line-height:14.000px;color:#888;font-weight:400;font-family:'Liberation Sans','Noto Sans CJK KR',sans-serif;left:69.00px;transform:scale(0.2000,0.2400);transform-origin:left center;">몰정보</div>
<div class="a" style="left:77.4px;top:320.70px;width:1.6px;height:2.6px;border:0.5px solid #d0d0d0;border-radius:1px 1px 0.4px 0.4px"></div>
<div class="a" style="top:315.16px;font-size:10.000px;line-height:14.000px;color:#888;font-weight:400;font-family:'Liberation Sans','Noto Sans CJK KR',sans-serif;left:80.00px;transform:scale(0.2000,0.2400);transform-origin:left center;">신고하기</div>
<div class="a" style="top:306.60px;font-size:10.000px;line-height:14.000px;color:#3e63e0;font-weight:700;font-family:'Liberation Sans','Noto Sans CJK KR',sans-serif;right:653.80px;transform:scale(0.3276,0.3600);transform-origin:right center;-webkit-text-stroke:0.15px #3e63e0;">16,900원</div>
<div class="a" style="top:313.67px;font-size:10.000px;line-height:14.000px;color:#5b7be8;font-weight:400;font-family:'Liberation Sans','Noto Sans CJK KR',sans-serif;right:654.20px;transform:scale(0.2300,0.2760);transform-origin:right center;">⎙ 3,000원 4월</div>
<div class="a" style="top:343.76px;font-size:10.000px;line-height:14.000px;color:#111;font-weight:900;font-family:'Liberation Sans','Noto Sans CJK KR',sans-serif;left:17.40px;transform:scale(0.2150,0.2687);transform-origin:left center;">질레트비너스공식몰</div>
<div class="a" style="left:37.2px;top:348.8px;width:9px;height:3.7px;background:linear-gradient(90deg,#3ccf6f,#3ccf6f 65%,#4aa8f0);border-radius:2px"></div>
<div class="a" style="top:335.37px;font-size:10.000px;line-height:14.000px;color:#333;font-weight:500;font-family:'Liberation Sans','Noto Sans CJK KR',sans-serif;left:53.40px;transform:scale(0.2938,0.2730);transform-origin:left center;">P&amp;G 질레트비너스 컴포트 글라이드 화이트티 여성용 면도기 + 면</div>
<div class="a" style="top:341.97px;font-size:10.000px;line-height:14.000px;color:#333;font-weight:500;font-family:'Liberation Sans','Noto Sans CJK KR',sans-serif;left:53.40px;transform:scale(0.2600,0.2730);transform-origin:left center;">도날 2입</div>
<div class="a" style="left:53.4px;top:357.60px;width:1.6px;height:2.6px;border:0.5px solid #d0d0d0;border-radius:1px 1px 0.4px 0.4px"></div>
<div class="a" style="top:352.06px;font-size:10.000px;line-height:14.000px;color:#888;font-weight:400;font-family:'Liberation Sans','Noto Sans CJK KR',sans-serif;left:57.50px;transform:scale(0.2000,0.2400);transform-origin:left center;">찜하기 <span style="color:#3cb15a">24</span></div>
<div class="a" style="top:352.06px;font-size:10.000px;line-height:14.000px;color:#888;font-weight:400;font-family:'Liberation Sans','Noto Sans CJK KR',sans-serif;left:69.00px;transform:scale(0.2000,0.2400);transform-origin:left center;">몰정보</div>
<div class="a" style="left:77.4px;top:357.60px;width:1.6px;height:2.6px;border:0.5px solid #d0d0d0;border-radius:1px 1px 0.4px 0.4px"></div>
<div class="a" style="top:352.06px;font-size:10.000px;line-height:14.000px;color:#888;font-weight:400;font-family:'Liberation Sans','Noto Sans CJK KR',sans-serif;left:80.00px;transform:scale(0.2000,0.2400);transform-origin:left center;">신고하기</div>
<div class="a" style="top:340.40px;font-size:10.000px;line-height:14.000px;color:#3e63e0;font-weight:700;font-family:'Liberation Sans','Noto Sans CJK KR',sans-serif;right:653.80px;transform:scale(0.3276,0.3600);transform-origin:right center;-webkit-text-stroke:0.15px #3e63e0;">17,150원</div>
<div class="a" style="top:347.67px;font-size:10.000px;line-height:14.000px;color:#5b7be8;font-weight:400;font-family:'Liberation Sans','Noto Sans CJK KR',sans-serif;right:654.20px;transform:scale(0.2300,0.2760);transform-origin:right center;">⎙ 4월</div>
<div class="a" style="left:17.9px;top:384.9px;width:4.2px;height:5.6px;border-radius:1px;background:#5cb4f4"></div>
<div class="a" style="top:380.70px;font-size:10.000px;line-height:14.000px;color:#e8f4ff;font-weight:700;font-family:'Liberation Sans','Noto Sans CJK KR',sans-serif;left:-580.00px;width:1200px;text-align:center;transform:scale(0.3600,0.3600);transform-origin:center center;">G</div>
<div class="a" style="top:380.89px;font-size:10.000px;line-height:14.000px;color:#222;font-weight:700;font-family:'Liberation Sans','Noto Sans CJK KR',sans-serif;left:23.00px;transform:scale(0.3300,0.3630);transform-origin:left center;">마켓</div>
<div class="a" style="left:32.6px;top:385.9px;width:7.6px;height:3.7px;background:linear-gradient(90deg,#3ccf6f,#3ccf6f 65%,#4aa8f0);border-radius:2px"></div>
<div class="a" style="top:372.57px;font-size:10.000px;line-height:14.000px;color:#333;font-weight:500;font-family:'Liberation Sans','Noto Sans CJK KR',sans-serif;left:53.40px;transform:scale(0.2314,0.2730);transform-origin:left center;">질레트 비너스 컴포트 글라이드 화이트티 여성용 면도기 (핸들 1개+면도날 2입)</div>
<div class="a" style="top:379.06px;font-size:10.000px;line-height:14.000px;color:#999;font-weight:400;font-family:'Liberation Sans','Noto Sans CJK KR',sans-serif;left:53.40px;transform:scale(0.2450,0.2695);transform-origin:left center;">한국P&amp;G정품 질레트 비너스 컴포트 글라이드 화이트티 면도기 세트</div>
<div class="a" style="left:53.4px;top:394.60px;width:1.6px;height:2.6px;border:0.5px solid #d0d0d0;border-radius:1px 1px 0.4px 0.4px"></div>
<div class="a" style="top:389.06px;font-size:10.000px;line-height:14.000px;color:#888;font-weight:400;font-family:'Liberation Sans','Noto Sans CJK KR',sans-serif;left:57.50px;transform:scale(0.2000,0.2400);transform-origin:left center;">찜하기 <span style="color:#3cb15a">24</span></div>
<div class="a" style="top:389.06px;font-size:10.000px;line-height:14.000px;color:#888;font-weight:400;font-family:'Liberation Sans','Noto Sans CJK KR',sans-serif;left:69.00px;transform:scale(0.2000,0.2400);transform-origin:left center;">몰정보</div>
<div class="a" style="left:77.4px;top:394.60px;width:1.6px;height:2.6px;border:0.5px solid #d0d0d0;border-radius:1px 1px 0.4px 0.4px"></div>
<div class="a" style="top:389.06px;font-size:10.000px;line-height:14.000px;color:#888;font-weight:400;font-family:'Liberation Sans','Noto Sans CJK KR',sans-serif;left:80.00px;transform:scale(0.2000,0.2400);transform-origin:left center;">신고하기</div>
<div class="a" style="top:377.80px;font-size:10.000px;line-height:14.000px;color:#3e63e0;font-weight:700;font-family:'Liberation Sans','Noto Sans CJK KR',sans-serif;right:653.80px;transform:scale(0.3276,0.3600);transform-origin:right center;-webkit-text-stroke:0.15px #3e63e0;">17,900원</div>
<div class="a" style="top:384.87px;font-size:10.000px;line-height:14.000px;color:#5b7be8;font-weight:400;font-family:'Liberation Sans','Noto Sans CJK KR',sans-serif;right:654.20px;transform:scale(0.2300,0.2760);transform-origin:right center;">⎙ 4월</div>
</div>
</div>
</body></html>
